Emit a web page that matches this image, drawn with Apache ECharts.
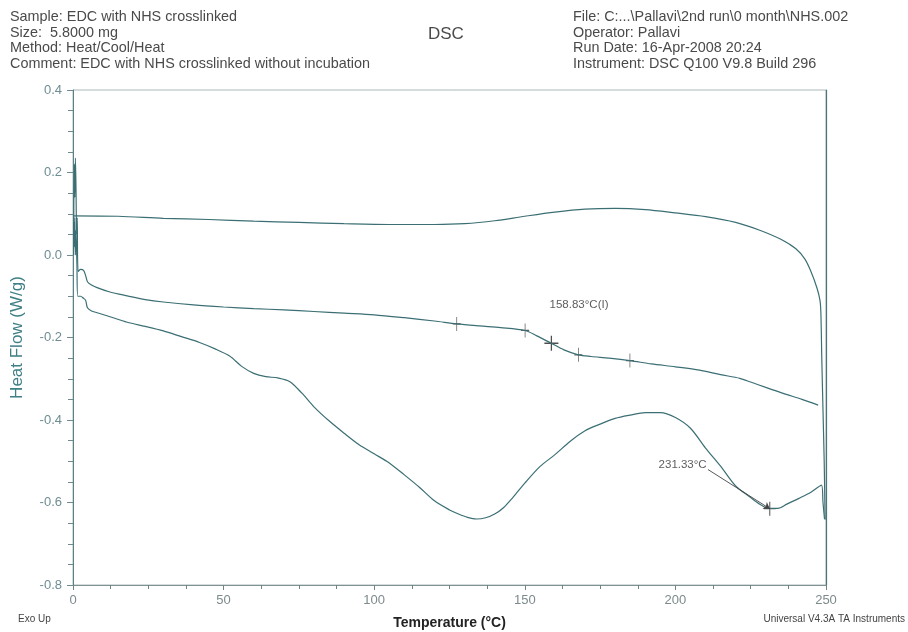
<!DOCTYPE html>
<html>
<head>
<meta charset="utf-8">
<title>DSC</title>
<script src="https://cdn.jsdelivr.net/npm/echarts@6/dist/echarts.min.js"></script>
<style>
  html, body { margin: 0; padding: 0; background: #ffffff; }
  #chart { width: 908px; height: 632px; }
</style>
</head>
<body>
<div id="chart"></div>
<script>
// First heating run (°C, W/g)
const firstHeatTemp = [0.2, 0.4, 0.6, 0.8, 1.0, 1.3, 1.6, 2.5, 3.5, 4.2, 4.8, 6, 8, 12, 18, 24, 30, 36, 42, 47, 52, 56, 60, 64, 68, 72, 76, 80, 85, 90, 95, 100, 105, 110, 115, 120, 125, 128, 131, 134, 137, 140, 143, 146, 150, 155, 160, 165, 170, 175, 180, 185, 190, 195, 200, 205, 210, 215, 220, 225, 228, 231, 234, 237, 241, 245, 248.5, 249, 249.5];
const firstHeatFlow = [0.08, 0.02, 0.09, 0.0, 0.06, -0.02, -0.1, -0.1, -0.105, -0.11, -0.128, -0.135, -0.14, -0.149, -0.163, -0.173, -0.184, -0.198, -0.212, -0.227, -0.245, -0.27, -0.287, -0.295, -0.298, -0.307, -0.335, -0.368, -0.402, -0.432, -0.46, -0.482, -0.504, -0.533, -0.563, -0.596, -0.618, -0.628, -0.636, -0.64, -0.637, -0.628, -0.612, -0.588, -0.553, -0.513, -0.484, -0.452, -0.426, -0.41, -0.396, -0.388, -0.382, -0.382, -0.394, -0.42, -0.468, -0.512, -0.56, -0.588, -0.604, -0.614, -0.614, -0.604, -0.59, -0.575, -0.558, -0.6, -0.64];

// Cooling run
const coolTemp = [0.3, 15, 30, 45, 60, 75, 90, 105, 120, 130, 140, 150, 160, 170, 180, 190, 200, 210, 220, 228, 235, 240, 243, 245, 247, 248, 248.3, 248.6, 249, 249.4, 249.7];
const coolFlow = [0.095, 0.094, 0.089, 0.086, 0.082, 0.079, 0.076, 0.074, 0.074, 0.076, 0.083, 0.094, 0.104, 0.111, 0.113, 0.11, 0.102, 0.093, 0.079, 0.06, 0.038, 0.015, -0.01, -0.04, -0.08, -0.11, -0.14, -0.25, -0.376, -0.5, -0.642];

// Second heating run
const secondHeatTemp = [0.2, 0.4, 0.6, 0.8, 1.0, 1.2, 1.4, 1.7, 2.5, 3.5, 4.2, 4.8, 6, 8, 12, 18, 24, 30, 40, 50, 60, 70, 80, 90, 100, 110, 120, 127.4, 135, 142, 150.1, 154, 158.83, 163, 167.8, 172, 178, 184.9, 192, 200, 208, 215, 221.4, 225, 230, 236, 242, 247.4];
const secondHeatFlow = [0.0, 0.22, 0.14, 0.235, 0.16, 0.05, 0.09, -0.04, -0.035, -0.037, -0.05, -0.065, -0.072, -0.079, -0.089, -0.099, -0.108, -0.114, -0.121, -0.126, -0.13, -0.133, -0.137, -0.141, -0.145, -0.152, -0.16, -0.167, -0.172, -0.176, -0.183, -0.196, -0.214, -0.23, -0.242, -0.246, -0.25, -0.256, -0.264, -0.271, -0.279, -0.29, -0.299, -0.308, -0.321, -0.336, -0.35, -0.364];

// Analysis points on the second heating (onset / inflection / end markers)
const tgMarkTemp = [127.4, 150.1, 167.8, 184.9];
const tgMarkFlow = [-0.167, -0.183, -0.242, -0.256];
const tgInflection = [158.83, -0.214];
// Endotherm peak on the first heating
const peakPoint = [231.33, -0.615];

const tgLabel = '158.83°C(I)';
const peakLabel = '231.33°C';

const headerLeft = [
  'Sample: EDC with NHS crosslinked',
  'Size:  5.8000 mg',
  'Method: Heat/Cool/Heat',
  'Comment: EDC with NHS crosslinked without incubation'
];
const headerRight = [
  'File: C:...\\Pallavi\\2nd run\\0 month\\NHS.002',
  'Operator: Pallavi',
  'Run Date: 16-Apr-2008 20:24',
  'Instrument: DSC Q100 V9.8 Build 296'
];

function pairs(xs, ys) { return xs.map((x, i) => [x, ys[i]]); }

const curveColor = '#3b6f74';
const font = '"Liberation Sans", Arial, sans-serif';
const narrow = '"Liberation Sans Narrow", "Liberation Sans", Arial, sans-serif';
const plus = 'path://M-0.09,-1H0.09V-0.09H1V0.09H0.09V1H-0.09V0.09H-1V-0.09H-0.09Z';

const chart = echarts.init(document.getElementById('chart'), null, { renderer: 'canvas' });

const headerGraphics = [];
headerLeft.forEach((t, i) => headerGraphics.push({
  type: 'text', left: 10, top: 10 + i * 15.6,
  style: { text: t, font: '14.4px ' + font, fill: '#4a4a4a' }
}));
headerRight.forEach((t, i) => headerGraphics.push({
  type: 'text', left: 573, top: 10 + i * 15.6,
  style: { text: t, font: '14.4px ' + font, fill: '#4a4a4a' }
}));
headerGraphics.push({
  type: 'text', left: 428, top: 26,
  style: { text: 'DSC', font: '17px ' + font, fill: '#4a4a4a' }
});
headerGraphics.push({
  type: 'text', left: 18, top: 614,
  style: { text: 'Exo Up', font: '10px ' + narrow, fill: '#444' }
});
headerGraphics.push({
  type: 'text', right: 3, top: 614,
  style: { text: 'Universal V4.3A TA Instruments', font: '10px ' + narrow, fill: '#444' }
});

const lineCommon = {
  type: 'line', showSymbol: false, smooth: 0.3,
  lineStyle: { color: curveColor, width: 1.2 }
};

chart.setOption({
  animation: false,
  backgroundColor: '#ffffff',
  graphic: headerGraphics,
  grid: {
    left: 73, right: 82, top: 90, bottom: 47,
    outerBoundsMode: 'none', containLabel: false,
    show: true, borderColor: '#aab8ba', borderWidth: 1
  },
  xAxis: {
    type: 'value', min: 0, max: 250, interval: 50,
    name: 'Temperature (°C)', nameLocation: 'middle', nameGap: 31,
    nameTextStyle: { fontFamily: font, fontSize: 14, fontWeight: 'bold', color: '#222' },
    axisLine: { show: true, onZero: false, lineStyle: { color: '#7f9193', width: 1 } },
    axisTick: { show: true, length: 5, lineStyle: { color: '#6f8385' } },
    minorTick: { show: true, splitNumber: 4, length: 4, lineStyle: { color: '#6f8385' } },
    axisLabel: { fontFamily: narrow, fontSize: 13, color: '#7d8a8c', margin: 9 },
    splitLine: { show: false }
  },
  yAxis: [
    {
      type: 'value', min: -0.8, max: 0.4, interval: 0.2,
      name: 'Heat Flow (W/g)', nameLocation: 'middle', nameGap: 47,
      nameTextStyle: { fontFamily: font, fontSize: 17, color: '#3f7f86' },
      axisLine: { show: true, onZero: false, lineStyle: { color: '#5f8084', width: 1 } },
      axisTick: { show: true, length: 6, lineStyle: { color: '#6f8c90' } },
      minorTick: { show: true, splitNumber: 4, length: 5, lineStyle: { color: '#6f8c90' } },
      axisLabel: {
        fontFamily: narrow, fontSize: 13, color: '#6e8d92', margin: 11,
        formatter: v => v.toFixed(1)
      },
      splitLine: { show: false }
    },
    {
      // right-hand frame edge
      type: 'value', position: 'right', min: -0.8, max: 0.4, interval: 0.2,
      axisLine: { show: true, onZero: false, lineStyle: { color: '#4d7579', width: 1.2 } },
      axisTick: { show: false }, axisLabel: { show: false }, splitLine: { show: false }
    }
  ],
  series: [
    Object.assign({ name: 'Cooling', data: pairs(coolTemp, coolFlow) }, lineCommon),
    Object.assign({ name: 'Second heating', data: pairs(secondHeatTemp, secondHeatFlow) }, lineCommon),
    Object.assign({
      name: 'First heating', data: pairs(firstHeatTemp, firstHeatFlow),
      markLine: {
        silent: true, symbol: ['none', 'arrow'], symbolSize: 6,
        lineStyle: { color: '#444', width: 0.9, type: 'solid' },
        label: { show: false },
        data: [[{ coord: [210.8, -0.52] }, { coord: peakPoint }]]
      }
    }, lineCommon),
    {
      name: 'Transition markers', type: 'scatter',
      data: pairs(tgMarkTemp, tgMarkFlow),
      symbol: plus, symbolSize: [8, 14],
      itemStyle: { color: '#333' }
    },
    {
      name: 'Inflection', type: 'scatter',
      data: [tgInflection],
      symbol: plus, symbolSize: [14, 15],
      itemStyle: { color: '#222' }
    },
    {
      name: 'Peak', type: 'scatter',
      data: [peakPoint],
      symbol: plus, symbolSize: [12, 14],
      itemStyle: { color: '#333' }
    },
    {
      name: 'Labels', type: 'scatter', symbolSize: 0,
      data: [
        { value: [168, -0.121], label: { formatter: tgLabel } },
        { value: [202.4, -0.509], label: { formatter: peakLabel } }
      ],
      label: {
        show: true, position: 'inside',
        fontFamily: narrow, fontSize: 11.5, color: '#333'
      }
    }
  ]
});
</script>
</body>
</html>
